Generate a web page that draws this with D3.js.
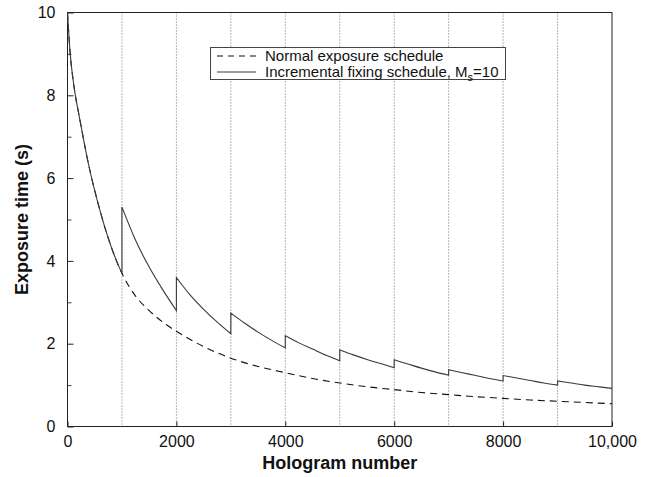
<!DOCTYPE html>
<html>
<head>
<meta charset="utf-8">
<script src="https://cdn.jsdelivr.net/npm/d3@7"></script>
<style>
  html, body { margin: 0; padding: 0; background: #fff; }
  svg { display: block; font-family: "Liberation Sans", Arial, Helvetica, sans-serif; }
</style>
</head>
<body>
<svg id="chart" width="653" height="477"></svg>
<script>
// ---- Data ----
const normalN = [0, 50, 100, 150, 200, 250, 300, 400, 500, 600, 700, 800, 900, 1000,
  1250, 1500, 1750, 2000, 2500, 3000, 3500, 4000, 4500, 5000, 5500, 6000, 6500, 7000,
  7500, 8000, 8500, 9000, 9500, 10000];
const normalT = [10, 9.0, 8.4, 7.95, 7.6, 7.25, 6.9, 6.25, 5.7, 5.2, 4.75, 4.35, 4.0, 3.7,
  3.15, 2.8, 2.52, 2.3, 1.93, 1.65, 1.45, 1.3, 1.16, 1.05, 0.96, 0.89, 0.82, 0.77,
  0.72, 0.68, 0.64, 0.61, 0.58, 0.55];

// incremental fixing schedule: one segment between consecutive fixings
const incrSegN = [
  [0, 50, 100, 150, 200, 250, 300, 400, 500, 600, 700, 800, 900, 1000],
  [1000, 1250, 1500, 1750, 2000],
  [2000, 2250, 2500, 2750, 3000],
  [3000, 3250, 3500, 3750, 4000],
  [4000, 4250, 4500, 4750, 5000],
  [5000, 5250, 5500, 5750, 6000],
  [6000, 6250, 6500, 6750, 7000],
  [7000, 7250, 7500, 7750, 8000],
  [8000, 8250, 8500, 8750, 9000],
  [9000, 9250, 9500, 9750, 10000]
];
const incrSegT = [
  [10, 9.0, 8.4, 7.95, 7.6, 7.25, 6.9, 6.25, 5.7, 5.2, 4.75, 4.35, 4.0, 3.7],
  [5.3, 4.5, 3.85, 3.3, 2.8],
  [3.6, 3.18, 2.83, 2.52, 2.24],
  [2.74, 2.5, 2.28, 2.08, 1.9],
  [2.19, 2.02, 1.87, 1.72, 1.59],
  [1.85, 1.73, 1.62, 1.52, 1.42],
  [1.61, 1.51, 1.41, 1.32, 1.24],
  [1.37, 1.30, 1.23, 1.16, 1.10],
  [1.23, 1.17, 1.11, 1.05, 1.00],
  [1.10, 1.05, 1.00, 0.96, 0.92]
];

const fixingPoints = [1000, 2000, 3000, 4000, 5000, 6000, 7000, 8000, 9000];
const xTicks = [0, 2000, 4000, 6000, 8000, 10000];
const xTickLabels = ["0", "2000", "4000", "6000", "8000", "10,000"];
const yTicks = [0, 2, 4, 6, 8, 10];
const yMinorTicks = [1, 3, 5, 7, 9];
const xLabel = "Hologram number";
const yLabel = "Exposure time (s)";
const legendLabels = ["Normal exposure schedule", "Incremental fixing schedule, M"];

// ---- Layout ----
const svg = d3.select("#chart");
const L = 67.5, R = 612, T = 12.5, B = 426.5;
const x = d3.scaleLinear().domain([0, 10000]).range([L, R]);
const y = d3.scaleLinear().domain([0, 10]).range([B, T]);

// vertical dotted grid lines at fixing points
svg.append("g").selectAll("line").data(fixingPoints).join("line")
  .attr("x1", d => x(d)).attr("x2", d => x(d))
  .attr("y1", T).attr("y2", B)
  .attr("stroke", "#6f6f6f").attr("stroke-width", 1)
  .attr("stroke-dasharray", "1,2");

// axes
const xAxis = d3.axisBottom(x).tickValues(xTicks)
  .tickFormat((d, i) => xTickLabels[i]).tickSizeInner(-5).tickSizeOuter(0).tickPadding(9);
const gx = svg.append("g").attr("transform", `translate(0,${B})`).call(xAxis);
gx.select(".domain").remove();
gx.selectAll("text").attr("font-size", 16).attr("fill", "#111")
  .attr("font-family", "'Liberation Sans', Arial, sans-serif");
gx.selectAll("line").attr("stroke", "#222");

const yAxis = d3.axisLeft(y).tickValues(yTicks).tickSizeInner(-6).tickSizeOuter(0).tickPadding(12);
const gy = svg.append("g").attr("transform", `translate(${L},0)`).call(yAxis);
gy.select(".domain").remove();
gy.selectAll("text").attr("font-size", 16).attr("fill", "#111")
  .attr("font-family", "'Liberation Sans', Arial, sans-serif");
gy.selectAll("line").attr("stroke", "#222");

const yMinor = d3.axisLeft(y).tickValues(yMinorTicks).tickSizeInner(-4).tickSizeOuter(0).tickFormat("");
const gym = svg.append("g").attr("transform", `translate(${L},0)`).call(yMinor);
gym.select(".domain").remove();
gym.selectAll("line").attr("stroke", "#444");

// frame
svg.append("rect").attr("x", L).attr("y", T).attr("width", R - L).attr("height", B - T)
  .attr("fill", "none").attr("stroke", "#222").attr("stroke-width", 1);

// lines
const line = d3.line().x(d => x(d[0])).y(d => y(d[1])).curve(d3.curveMonotoneX);

const normalData = normalN.map((n, i) => [n, normalT[i]]);
svg.append("path").datum(normalData).attr("d", line)
  .attr("fill", "none").attr("stroke", "#111").attr("stroke-width", 1.1)
  .attr("stroke-dasharray", "7,5");

// incremental: segments joined by vertical jumps
const incrPts = [];
incrSegN.forEach((seg, s) => seg.forEach((n, i) => incrPts.push([n, incrSegT[s][i], s])));
const segGroups = d3.groups(incrPts, d => d[2]);
let dStr = "";
segGroups.forEach(([s, pts], k) => {
  const p = line(pts);
  dStr += (k === 0 ? p : "L" + p.slice(1));
});
svg.append("path").attr("d", dStr)
  .attr("fill", "none").attr("stroke", "#3a3a3a").attr("stroke-width", 1.1);

// axis titles
svg.append("text").attr("x", (L + R) / 2).attr("y", 469)
  .attr("text-anchor", "middle").attr("font-size", 18).attr("font-weight", "bold")
  .attr("fill", "#111").text(xLabel);
svg.append("text").attr("transform", `translate(28,${(T + B) / 2}) rotate(-90)`)
  .attr("text-anchor", "middle").attr("font-size", 18).attr("font-weight", "bold")
  .attr("fill", "#111").text(yLabel);

// legend
const lg = svg.append("g");
lg.append("rect").attr("x", 210.5).attr("y", 47.5).attr("width", 295).attr("height", 32)
  .attr("fill", "#fff").attr("stroke", "#444").attr("stroke-width", 1);
lg.append("line").attr("x1", 217).attr("x2", 256).attr("y1", 56).attr("y2", 56)
  .attr("stroke", "#111").attr("stroke-width", 1.1).attr("stroke-dasharray", "6,5");
lg.append("line").attr("x1", 217).attr("x2", 256).attr("y1", 72).attr("y2", 72)
  .attr("stroke", "#3a3a3a").attr("stroke-width", 1.1);
lg.append("text").attr("x", 265).attr("y", 61).attr("font-size", 15).attr("fill", "#111")
  .text(legendLabels[0]);
const t2 = lg.append("text").attr("x", 265).attr("y", 77).attr("font-size", 15).attr("fill", "#111");
t2.append("tspan").text(legendLabels[1]);
t2.append("tspan").attr("font-size", 11).attr("dy", 4).text("s");
t2.append("tspan").attr("dy", -4).text("=10");
</script>
</body>
</html>
